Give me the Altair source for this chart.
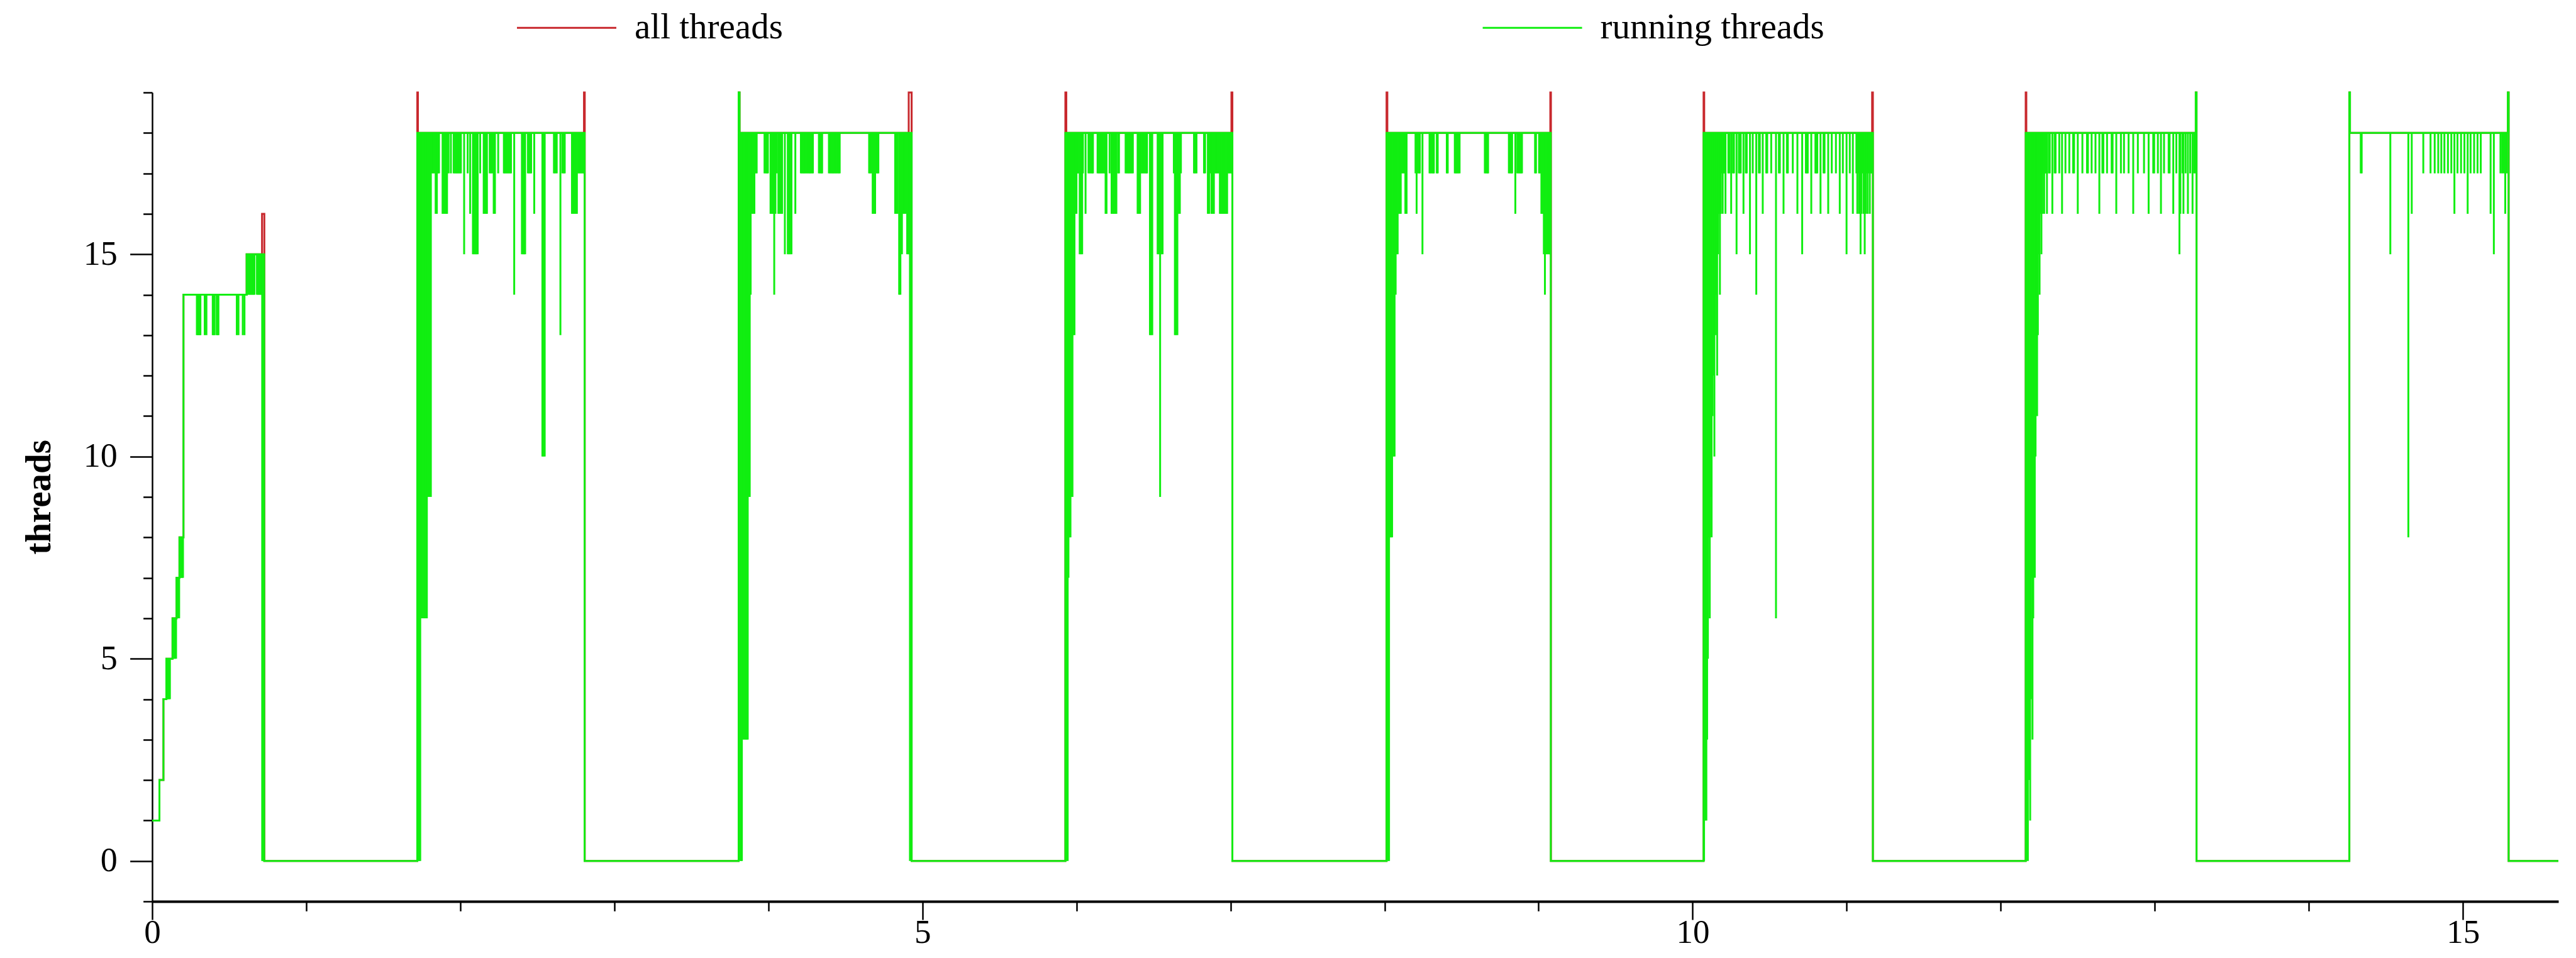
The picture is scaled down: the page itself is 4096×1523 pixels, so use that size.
import altair as alt
import pandas as pd

RED = "#c8282d"
GREEN = "#11ee11"
FONT = "Liberation Serif"

# ---------------- axis values ----------------
x_ticks = list(range(0, 16))
y_ticks = list(range(-1, 20))
x_max = 15.62
y_min, y_max = -1, 19
PLATEAU = 18

# ---------------- "all threads" (step series) ----------------
all_t = [0.0, 0.047, 0.073, 0.092, 0.132, 0.158, 0.177, 0.203, 0.613, 0.713, 0.728,
         1.721, 1.725, 2.803, 2.808,
         3.807, 3.813, 4.911, 4.930,
         5.928, 5.934, 7.006, 7.012,
         8.013, 8.018, 9.076, 9.080,
         10.071, 10.075, 11.165, 11.170,
         12.162, 12.166, 13.266, 13.271,
         14.263, 14.267, 15.292, 15.297, 15.62]
all_n = [1, 2, 4, 5, 6, 7, 8, 14, 15, 16, 0,
         19, 18, 19, 0,
         19, 18, 19, 0,
         19, 18, 19, 0,
         19, 18, 19, 0,
         19, 18, 19, 0,
         19, 18, 19, 0,
         19, 18, 19, 0, 0]

# ---------------- "running threads" envelope (step series) ----------------
run_t = [0.0, 0.047, 0.073, 0.092, 0.132, 0.158, 0.177, 0.203, 0.613, 0.727,
         1.721, 2.807,
         3.807, 3.813, 4.930,
         5.928, 7.012,
         8.013, 9.079,
         10.071, 11.170,
         12.162, 13.266, 13.271,
         14.263, 14.267, 15.292, 15.297, 15.62]
run_n = [1, 2, 4, 5, 6, 7, 8, 14, 15, 0,
         18, 0,
         19, 18, 0,
         18, 0,
         18, 0,
         18, 0,
         18, 19, 0,
         19, 18, 19, 0, 0]

# ---------------- running-thread dips (time, low, high) ----------------
seg0_spikes = [
    (0.095, 4, 5), (0.100, 4, 5), (0.105, 4, 5), (0.110, 4, 5), (0.115, 4, 5),
    (0.135, 5, 6), (0.140, 5, 6), (0.145, 5, 6), (0.150, 5, 6), (0.155, 5, 6),
    (0.161, 6, 7), (0.166, 6, 7), (0.171, 6, 7), (0.175, 6, 7),
    (0.180, 7, 8), (0.185, 7, 8), (0.190, 7, 8), (0.195, 7, 8), (0.200, 7, 8),
    (0.290, 13, 14), (0.296, 13, 14), (0.302, 13, 14), (0.308, 13, 14), (0.313, 13, 14),
    (0.341, 13, 14), (0.352, 13, 14),
    (0.393, 13, 14), (0.399, 13, 14), (0.405, 13, 14), (0.419, 13, 14), (0.425, 13, 14), (0.430, 13, 14),
    (0.549, 13, 14), (0.560, 13, 14), (0.588, 13, 14), (0.599, 13, 14),
    (0.617, 14, 15), (0.623, 14, 15), (0.629, 14, 15), (0.635, 14, 15), (0.641, 14, 15),
    (0.647, 14, 15), (0.653, 14, 15), (0.659, 14, 15), (0.664, 14, 15),
    (0.680, 14, 15), (0.686, 14, 15), (0.692, 14, 15), (0.698, 14, 15), (0.704, 14, 15),
    (0.710, 14, 15), (0.716, 14, 15), (0.722, 14, 15),
    (0.714, 0, 15), (0.720, 0, 15),
]

# dips from the 18-thread plateau: (time, low)
block1_spikes = [
    (1.723, 0), (1.729, 0), (1.734, 0), (1.740, 0),
    (1.746, 6), (1.754, 6), (1.762, 6), (1.770, 6), (1.777, 6), (1.783, 6),
    (1.789, 9), (1.796, 9), (1.802, 9), (1.809, 9),
    (1.816, 17), (1.824, 17), (1.832, 17), (1.840, 16), (1.848, 16), (1.855, 17), (1.862, 17),
    (1.885, 16), (1.893, 16), (1.901, 16), (1.909, 16), (1.914, 16),
    (1.924, 17), (1.939, 17),
    (1.957, 17), (1.965, 17), (1.973, 17), (1.980, 17), (1.988, 17), (1.996, 17), (2.004, 17),
    (2.025, 15), (2.048, 17), (2.064, 16),
    (2.082, 15), (2.090, 15), (2.098, 15), (2.105, 15), (2.113, 15),
    (2.129, 17),
    (2.152, 16), (2.160, 16), (2.168, 16), (2.173, 16),
    (2.191, 17), (2.199, 17), (2.207, 17), (2.217, 16), (2.225, 16),
    (2.246, 17),
    (2.283, 17), (2.290, 17), (2.298, 17), (2.306, 17), (2.314, 17), (2.322, 17), (2.329, 17),
    (2.350, 14),
    (2.400, 15), (2.408, 15), (2.415, 15), (2.421, 15),
    (2.439, 17), (2.447, 17), (2.454, 17), (2.460, 17),
    (2.480, 16),
    (2.533, 10), (2.540, 10), (2.548, 10),
    (2.608, 17), (2.616, 17), (2.626, 17),
    (2.650, 13),
    (2.663, 17), (2.671, 17), (2.678, 17),
    (2.725, 16), (2.733, 16), (2.741, 16), (2.749, 16), (2.757, 16),
    (2.764, 17), (2.772, 17), (2.780, 17), (2.788, 17), (2.795, 17), (2.803, 17),
]
block2_spikes = [
    (3.815, 0), (3.823, 0), (3.828, 0),
    (3.836, 3), (3.844, 3), (3.852, 3), (3.859, 3), (3.866, 3),
    (3.872, 9), (3.879, 9), (3.885, 14),
    (3.893, 16), (3.901, 16), (3.909, 16), (3.917, 17), (3.924, 17),
    (3.975, 17), (3.983, 17), (3.991, 17), (3.997, 17),
    (4.014, 16), (4.022, 16), (4.030, 16), (4.038, 14), (4.046, 16),
    (4.055, 17), (4.065, 16), (4.073, 16), (4.081, 16), (4.089, 16),
    (4.107, 15), (4.126, 15), (4.134, 15), (4.142, 15), (4.150, 15),
    (4.175, 16),
    (4.211, 17), (4.219, 17), (4.227, 17), (4.234, 17), (4.242, 17), (4.250, 17),
    (4.258, 17), (4.266, 17), (4.273, 17), (4.281, 17), (4.289, 17),
    (4.328, 17), (4.336, 17), (4.344, 17), (4.349, 17),
    (4.393, 17), (4.401, 17), (4.409, 17), (4.417, 17), (4.424, 17),
    (4.432, 17), (4.440, 17), (4.448, 17), (4.456, 17), (4.463, 17),
    (4.654, 17), (4.661, 17), (4.669, 17), (4.677, 16), (4.685, 16), (4.693, 16),
    (4.701, 17), (4.708, 17), (4.714, 17),
    (4.823, 16), (4.831, 16), (4.839, 16), (4.849, 14), (4.857, 14), (4.867, 15),
    (4.875, 16), (4.883, 16), (4.891, 16), (4.901, 15), (4.909, 15), (4.915, 15),
    (4.919, 0),
]
block3_spikes = [
    (5.936, 0), (5.943, 0), (5.948, 7), (5.954, 8), (5.961, 8), (5.967, 9), (5.974, 9),
    (5.980, 13), (5.987, 13), (5.993, 16), (6.000, 16), (6.007, 17), (6.013, 17),
    (6.021, 15), (6.029, 15), (6.037, 15), (6.042, 17),
    (6.059, 16),
    (6.078, 17), (6.086, 17), (6.094, 17), (6.102, 17), (6.107, 17),
    (6.137, 17), (6.145, 17), (6.152, 17), (6.160, 17), (6.168, 17), (6.176, 17), (6.184, 17),
    (6.189, 16), (6.195, 16),
    (6.215, 17), (6.228, 16), (6.236, 16), (6.243, 16), (6.251, 16), (6.259, 16),
    (6.270, 17), (6.276, 17),
    (6.319, 17), (6.327, 17), (6.335, 17), (6.342, 17), (6.350, 17), (6.358, 17), (6.366, 17),
    (6.397, 16), (6.405, 16), (6.413, 16), (6.421, 17), (6.428, 17), (6.436, 17),
    (6.444, 17), (6.452, 17), (6.458, 17),
    (6.477, 13), (6.484, 13), (6.492, 13),
    (6.527, 15), (6.535, 15), (6.543, 9), (6.551, 15), (6.559, 15),
    (6.632, 17), (6.639, 13), (6.647, 13), (6.655, 13), (6.663, 16), (6.671, 16), (6.678, 17),
    (6.763, 17), (6.771, 17), (6.779, 17),
    (6.828, 17), (6.835, 17),
    (6.853, 16), (6.861, 16), (6.868, 17), (6.876, 16), (6.884, 16), (6.892, 16),
    (6.900, 17), (6.907, 17), (6.915, 17), (6.923, 17),
    (6.931, 16), (6.939, 16), (6.947, 16), (6.954, 16), (6.962, 16), (6.970, 16), (6.978, 16),
    (6.986, 17), (6.993, 17), (7.001, 17), (7.008, 17),
]
block4_spikes = [
    (8.023, 0), (8.029, 0), (8.034, 8), (8.042, 8), (8.049, 8), (8.057, 10), (8.065, 10),
    (8.072, 14), (8.078, 15), (8.085, 15), (8.091, 16), (8.099, 16), (8.105, 16),
    (8.112, 17), (8.120, 17), (8.128, 17), (8.135, 16), (8.143, 16),
    (8.201, 17), (8.208, 16), (8.216, 17), (8.224, 17), (8.229, 17),
    (8.246, 15),
    (8.292, 17), (8.299, 17), (8.307, 17), (8.315, 17), (8.320, 17),
    (8.339, 17), (8.345, 17),
    (8.404, 17), (8.410, 17),
    (8.456, 17), (8.464, 17), (8.471, 17), (8.479, 17), (8.487, 17),
    (8.651, 17), (8.659, 17), (8.667, 17), (8.672, 17),
    (8.807, 17), (8.815, 17), (8.823, 17), (8.828, 17),
    (8.849, 16),
    (8.862, 17), (8.870, 17), (8.878, 17), (8.885, 17), (8.892, 17),
    (8.977, 17), (8.983, 17),
    (9.003, 17), (9.010, 17), (9.018, 16), (9.026, 16), (9.034, 15), (9.041, 14),
    (9.047, 15), (9.055, 15), (9.063, 15), (9.070, 15), (9.076, 15),
]
block5_spikes = [
    (10.074, 0), (10.079, 1), (10.084, 3), (10.089, 1), (10.094, 3), (10.099, 5),
    (10.105, 8), (10.111, 6), (10.117, 9), (10.123, 8), (10.129, 11), (10.135, 12),
    (10.141, 10), (10.147, 13), (10.153, 14), (10.159, 12), (10.165, 15), (10.171, 16),
    (10.177, 14), (10.183, 16), (10.189, 17), (10.195, 16), (10.201, 17), (10.207, 17),
    (10.213, 16),
    (10.232, 17), (10.238, 17), (10.250, 16), (10.262, 17), (10.268, 17), (10.285, 15),
    (10.300, 17), (10.306, 17), (10.312, 17), (10.330, 16), (10.345, 17), (10.351, 17),
    (10.372, 15), (10.390, 17), (10.413, 14), (10.430, 17), (10.436, 17), (10.455, 16),
    (10.478, 17), (10.484, 17), (10.510, 17), (10.541, 6), (10.560, 17), (10.566, 17),
    (10.590, 16), (10.612, 17), (10.618, 17), (10.650, 17), (10.680, 16), (10.711, 15),
    (10.735, 17), (10.741, 17), (10.747, 17), (10.770, 16), (10.797, 17), (10.803, 17),
    (10.809, 17), (10.830, 16), (10.850, 17), (10.856, 17), (10.880, 16), (10.903, 17),
    (10.930, 17), (10.955, 16), (10.975, 17), (10.999, 15), (11.020, 17), (11.040, 16),
    (11.063, 17), (11.069, 16), (11.075, 17), (11.081, 16), (11.090, 15), (11.096, 16),
    (11.102, 17), (11.110, 16), (11.117, 15), (11.123, 16), (11.130, 17), (11.136, 16),
    (11.142, 17), (11.150, 16), (11.156, 17), (11.162, 17),
]
block6_spikes = [
    (12.166, 0), (12.171, 1), (12.176, 0), (12.181, 2), (12.186, 3), (12.191, 1),
    (12.196, 4), (12.201, 7), (12.206, 3), (12.211, 6), (12.216, 9), (12.221, 7),
    (12.226, 10), (12.231, 13), (12.236, 11), (12.241, 13), (12.246, 15), (12.252, 14),
    (12.258, 16), (12.264, 15), (12.270, 16), (12.276, 17), (12.282, 16), (12.288, 17),
    (12.294, 17), (12.300, 16), (12.312, 17), (12.318, 17), (12.335, 16), (12.350, 17),
    (12.356, 17), (12.380, 17), (12.398, 16), (12.420, 17), (12.445, 17), (12.470, 17),
    (12.476, 17), (12.500, 16), (12.530, 17), (12.560, 17), (12.566, 17), (12.590, 17),
    (12.615, 17), (12.640, 16), (12.660, 17), (12.666, 17), (12.690, 17), (12.720, 17),
    (12.726, 17), (12.750, 16), (12.780, 17), (12.800, 17), (12.830, 17), (12.860, 16),
    (12.890, 17), (12.930, 17), (12.960, 16), (12.990, 17), (12.996, 17), (13.020, 17),
    (13.040, 16), (13.060, 17), (13.090, 17), (13.096, 17), (13.120, 16), (13.140, 17),
    (13.160, 15), (13.166, 16), (13.180, 17), (13.186, 16), (13.200, 17), (13.215, 16),
    (13.230, 17), (13.245, 16), (13.255, 17), (13.262, 17),
]
block7_spikes = [
    (14.337, 17), (14.343, 17), (14.529, 15), (14.646, 8), (14.668, 16), (14.743, 17),
    (14.790, 17), (14.817, 17), (14.840, 17), (14.860, 17), (14.880, 17), (14.903, 17),
    (14.925, 17), (14.945, 16), (14.965, 17), (14.988, 17), (15.010, 17), (15.031, 16),
    (15.050, 17), (15.073, 17), (15.095, 17), (15.116, 17), (15.180, 16), (15.201, 15),
    (15.244, 17), (15.255, 17), (15.265, 17), (15.275, 16), (15.285, 17),
]

# ---------------- tables ----------------
all_df = pd.DataFrame({"t": all_t, "n": all_n, "series": "all threads"})
run_df = pd.DataFrame({"t": run_t, "n": run_n, "series": "running threads"})

spike_rows = [{"t": t, "low": lo, "high": hi} for (t, lo, hi) in seg0_spikes]
for blk in (block1_spikes, block2_spikes, block3_spikes, block4_spikes,
            block5_spikes, block6_spikes, block7_spikes):
    spike_rows += [{"t": t, "low": lo, "high": PLATEAU} for (t, lo) in blk]
spike_df = pd.DataFrame(spike_rows)

# ---------------- encodings ----------------
major = "datum.value % 5 === 0"
x_axis = alt.Axis(
    values=x_ticks, title="", grid=False,
    labelExpr=f"{major} ? datum.label : ''",
    tickSize={"condition": {"test": major, "value": 29}, "value": 15.3},
    tickWidth=2.5, tickColor="black",
    domainWidth=4, domainColor="black",
    labelFont=FONT, labelFontSize=53, labelColor="black",
    labelPadding=-5.4, labelFlush=False, labelOverlap=False,
)
y_axis = alt.Axis(
    values=y_ticks, title="threads", grid=False,
    labelExpr=f"{major} ? datum.label : ''",
    tickSize={"condition": {"test": major, "value": 35.4}, "value": 14.4},
    tickWidth=2.5, tickColor="black",
    domainWidth=2.5, domainColor="black",
    labelFont=FONT, labelFontSize=54, labelColor="black",
    labelPadding=20.4, labelFlush=False, labelOverlap=False,
    titleFont=FONT, titleFontSize=57, titleFontWeight="bold", titleColor="black",
    titleAngle=270, titleAlign="center", titleBaseline="alphabetic",
    titleX=-162.7, titleY=643,
)
x_scale = alt.Scale(domain=[0, x_max], nice=False, zero=False)
y_scale = alt.Scale(domain=[y_min, y_max], nice=False, zero=False)

color = alt.Color(
    "series:N",
    scale=alt.Scale(domain=["all threads", "running threads"], range=[RED, GREEN]),
    legend=alt.Legend(
        title=None, orient="none", legendX=578.5, legendY=-183.5,
        direction="horizontal", symbolType="stroke", symbolSize=24964,
        symbolStrokeWidth=3, labelFont=FONT, labelFontSize=57, labelColor="black",
        labelOffset=27.5, columnPadding=1105.6, padding=0, labelLimit=1000,
    ),
)

red_layer = alt.Chart(all_df).mark_line(interpolate="step-after", strokeWidth=3).encode(
    x=alt.X("t:Q", scale=x_scale, axis=x_axis),
    y=alt.Y("n:Q", scale=y_scale, axis=y_axis),
    color=color,
)
green_layer = alt.Chart(run_df).mark_line(interpolate="step-after", strokeWidth=3).encode(
    x=alt.X("t:Q", scale=x_scale, axis=x_axis),
    y=alt.Y("n:Q", scale=y_scale, axis=y_axis),
    color=color,
)
spike_layer = alt.Chart(spike_df).mark_rule(strokeWidth=3, color=GREEN).encode(
    x=alt.X("t:Q", scale=x_scale, axis=x_axis),
    y=alt.Y("low:Q", scale=y_scale, axis=y_axis),
    y2="high:Q",
)

chart = alt.layer(red_layer, green_layer, spike_layer).properties(
    width=3826, height=1286,
    autosize=alt.AutoSizeParams(type="none"),
    padding={"left": 234, "top": 139, "right": 20, "bottom": 77},
).configure_view(strokeWidth=0)

chart.save("out.html", embed_options={"renderer": "svg", "actions": False})
